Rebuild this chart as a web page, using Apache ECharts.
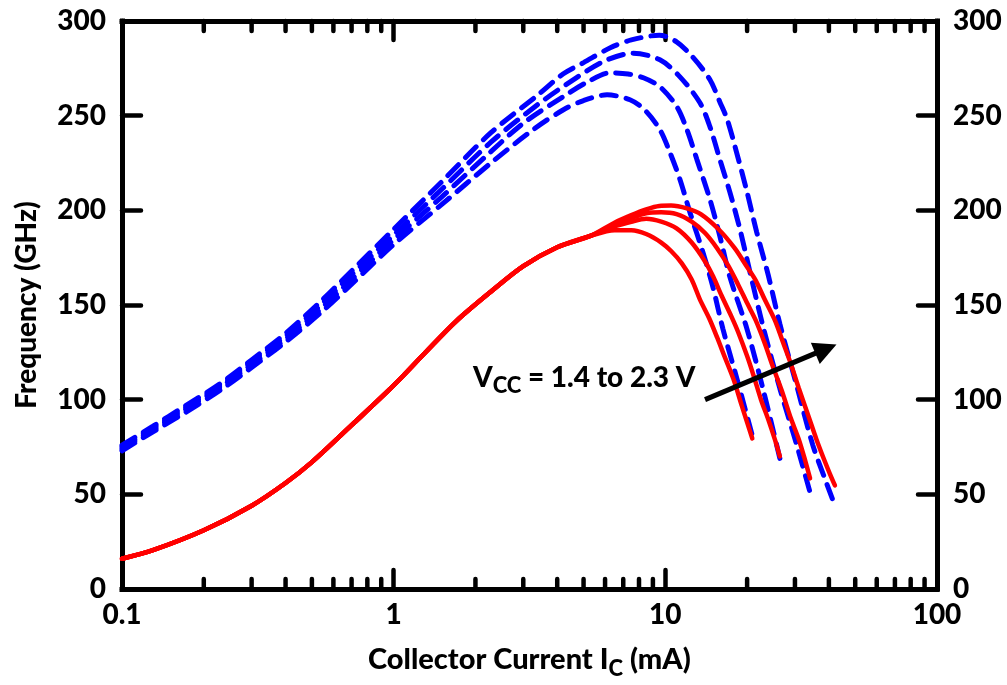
<!DOCTYPE html>
<html><head><meta charset="utf-8">
<script src="https://cdn.jsdelivr.net/npm/echarts@6/dist/echarts.min.js"></script>
<style>html,body{margin:0;padding:0;background:#fff}#c{width:1007px;height:685px}</style>
</head><body><div id="c"></div>
<script>
// ---------- data ----------
const xTickLabels = ['0.1', '1', '10', '100'];
const yTickLabels = ['0', '50', '100', '150', '200', '250', '300'];
const minorTickValues = [0.2,0.3,0.4,0.5,0.6,0.7,0.8,0.9,2,3,4,5,6,7,8,9,20,30,40,50,60,70,80,90];

// solid red curves (shared low-current part)
const redBaseX = [0.1,0.13,0.2,0.3,0.4,0.5,0.7,1,1.3,1.7,2.3,3,4,5.3];
const redBaseY = [16,20.5,31,44,56,67,86.5,107.5,124.5,141.5,157.5,170.5,180.5,186.5];
const red1X = [6.5,7.5,8.5,9.66,10.5,11.5,12.5,13.4,14.5,15.5,16.5,17.8,19.1,20.0,20.9];
const red1Y = [189.5,189.5,187.5,183,178.5,172,163.5,153,143,133,123,111,97,88,79.5];
const red2X = [6.5,7.5,8.5,9.66,11,12.5,14,15,16.1,17.5,18.5,20,21.2,22.5,24,25.3,26.4];
const red2Y = [191.5,194,195.5,194,190.5,183,173,165,155,144,136,123,112,100,89,79,70];
const red3X = [6.5,7.5,8.5,9.66,11,12.5,14,15.5,17,18.5,20,21.5,23.2,24.8,26.8,29,31,32.7,34.1];
const red3Y = [192.5,196,198.5,199,198,194,188,180,171,161,151,142,130,118,105,90,79,68,58.4];
const red4X = [6.5,7.5,8.5,9.5,10.5,12,13.5,15.7,18,20,21.5,23.2,25.3,27,28.8,31,33.7,36,38.5,40.3,42.1];
const red4Y = [193.5,197.5,200.5,202.3,202.5,201,198,190,180,170,163,153,142,131,120,106,91,79,68,61,54.7];

// dashed blue curves
const blueBaseX = [0.1,0.13,0.17,0.23,0.3,0.4,0.54,0.7,1,1.5];
const blue1BaseY = [73,83,93,105,117,130.5,146,161,182,203];
const blue2BaseY = [74,84,94.5,106.5,118.5,132,148,163.5,184.5,207];
const blue3BaseY = [75,85,95.5,107.5,120,133.5,150,166,187,211];
const blue4BaseY = [76,86,96.5,108.5,121,135,152,168,190,215];
const blue1X = [2.28,3.26,4.2,5,6.1,7.41,8.4,9.55,10.4,11.32,12.32,13.75,14.97,16.29,18.34,20.9];
const blue1Y = [225,242.6,253,258,261,258.4,253,242.6,230.5,216.3,198.9,177.9,159.5,137.4,111.1,81];
const blue2X = [2.28,3.0,4.2,5.2,6.25,7.3,8.3,9.55,11.03,12.01,13.07,14.59,15.88,17.29,19.97,22.87,26.4];
const blue2Y = [231,246,260,268,272.6,272,270,265.3,254.7,242.6,226.8,205.8,186.3,164.7,137.4,105.8,69];
const blue3X = [2.28,3.4,4.7,6,7.6,9.55,11.32,13.41,14.59,15.88,17.29,18.82,20.49,22.87,26.41,30.5,34.1];
const blue3Y = [236,256,270,279,283,279.5,270.5,256.8,244.2,226.8,209.5,190,167.4,138.9,105.8,75.8,51];
const blue4X = [2.28,3.4,4.2,5,6.3,7.5,9.5,11,12.6,14.6,15.9,16.9,18.3,20,21.7,23.9,26.4,30.5,34.9,38.5,42.1];
const blue4Y = [241,261,272,278,286,290,292.5,289,281,269,257,248,230.5,209.5,188.4,166,140,107,76,59,44];

const arrowStart = [14.0, 100];
const arrowEnd = [39.0, 126.8];
const annotationText = ['V', 'CC', ' = 1.4 to 2.3 V'];

// ---------- build ----------
const pairs = (xs, ys) => xs.map((x, i) => [x, ys[i]]);
const redSets = [[red1X, red1Y], [red2X, red2Y], [red3X, red3Y], [red4X, red4Y]]
  .map(([xs, ys]) => pairs(redBaseX.concat(xs), redBaseY.concat(ys)));
const blueSets = [[blue1BaseY, blue1X, blue1Y], [blue2BaseY, blue2X, blue2Y], [blue3BaseY, blue3X, blue3Y], [blue4BaseY, blue4X, blue4Y]]
  .map(([by, xs, ys]) => pairs(blueBaseX.concat(xs), by.concat(ys)));

const FONT = 'Lato';
const WEIGHT = 900;
const labelStyle = { fontFamily: FONT, fontWeight: WEIGHT, fontSize: 28, color: '#000' };
const axisLine = { show: true, onZero: false, lineStyle: { color: '#000', width: 5, cap: 'square' } };
const majorTick = { show: true, inside: true, length: 19, lineStyle: { color: '#000', width: 4.5, cap: 'round' } };
const fmtX = v => { const s = String(+(+v).toPrecision(3)); return xTickLabels.includes(s) ? s : ''; };

const series = [];
redSets.forEach((d, i) => series.push({
  type: 'line', data: d, showSymbol: false, smooth: 0.3, z: 3,
  lineStyle: { color: '#ff0000', width: 4.5, cap: 'round' },
  markLine: i === 3 ? {
    silent: true, symbol: ['none', 'triangle'], symbolSize: 23, animation: false,
    label: { show: false },
    lineStyle: { color: '#000', width: 5, type: 'solid' },
    data: [[{ coord: arrowStart }, { coord: arrowEnd }]]
  } : undefined
}));
blueSets.forEach(d => series.push({
  type: 'line', data: d, showSymbol: false, smooth: 0.3, z: 2,
  lineStyle: { color: '#0000ff', width: 5, type: [15, 10], cap: 'round' }
}));
series.push({
  type: 'custom', silent: true, clip: false, z: 10,
  data: minorTickValues.map(v => [v, 0]),
  renderItem: (params, api) => {
    const x = api.coord([api.value(0), 0])[0];
    const cs = params.coordSys;
    const st = { stroke: '#000', lineWidth: 4.5, lineCap: 'round' };
    return { type: 'group', children: [
      { type: 'line', shape: { x1: x, y1: cs.y + cs.height, x2: x, y2: cs.y + cs.height - 10 }, style: st },
      { type: 'line', shape: { x1: x, y1: cs.y, x2: x, y2: cs.y + 10 }, style: st }
    ]};
  }
});

const chart = echarts.init(document.getElementById('c'), null, { renderer: 'canvas' });
chart.setOption({
  animation: false,
  backgroundColor: '#fff',
  grid: { left: 122, right: 70, top: 21, bottom: 94, containLabel: false },
  xAxis: [{
    type: 'log', logBase: 10, min: 0.1, max: 100, position: 'bottom',
    axisLine, axisTick: majorTick, splitLine: { show: false },
    axisLabel: Object.assign({ margin: 12, formatter: fmtX }, labelStyle),
    name: '{a|Collector Current I}{s|C}{a| (mA)}{h| }', nameLocation: 'middle', nameGap: 56,
    nameTextStyle: { rich: {
      a: { fontFamily: FONT, fontWeight: WEIGHT, fontSize: 29, color: '#000', lineHeight: 30, verticalAlign: 'top' },
      s: { fontFamily: FONT, fontWeight: WEIGHT, fontSize: 22, color: '#000', lineHeight: 22, verticalAlign: 'bottom' },
      h: { fontSize: 1, lineHeight: 35 }
    } }
  }, {
    type: 'log', logBase: 10, min: 0.1, max: 100, position: 'top',
    axisLine, axisTick: majorTick, splitLine: { show: false }, axisLabel: { show: false }
  }],
  yAxis: [{
    type: 'value', min: 0, max: 300, interval: 50, position: 'left',
    axisLine, axisTick: majorTick, splitLine: { show: false },
    axisLabel: Object.assign({ margin: 16, formatter: v => yTickLabels[Math.round(v / 50)] }, labelStyle),
    name: 'Frequency (GHz)', nameLocation: 'middle', nameGap: 81,
    nameTextStyle: { fontFamily: FONT, fontWeight: WEIGHT, fontSize: 28, color: '#000' }
  }, {
    type: 'value', min: 0, max: 300, interval: 50, position: 'right',
    axisLine, axisTick: majorTick, splitLine: { show: false },
    axisLabel: Object.assign({ margin: 16, formatter: v => yTickLabels[Math.round(v / 50)] }, labelStyle)
  }],
  series,
  graphic: [{
    type: 'text', left: 473, top: 364, z: 20,
    style: {
      text: '{v|' + annotationText[0] + '}{s|' + annotationText[1] + '}{v|' + annotationText[2] + '}{h| }',
      rich: {
        v: { fontFamily: FONT, fontWeight: WEIGHT, fontSize: 28, fill: '#000', lineHeight: 28, verticalAlign: 'top' },
        s: { fontFamily: FONT, fontWeight: WEIGHT, fontSize: 22, fill: '#000', lineHeight: 22, verticalAlign: 'bottom' },
        h: { fontSize: 1, lineHeight: 33 }
      }
    }
  }]
});
</script></body></html>
